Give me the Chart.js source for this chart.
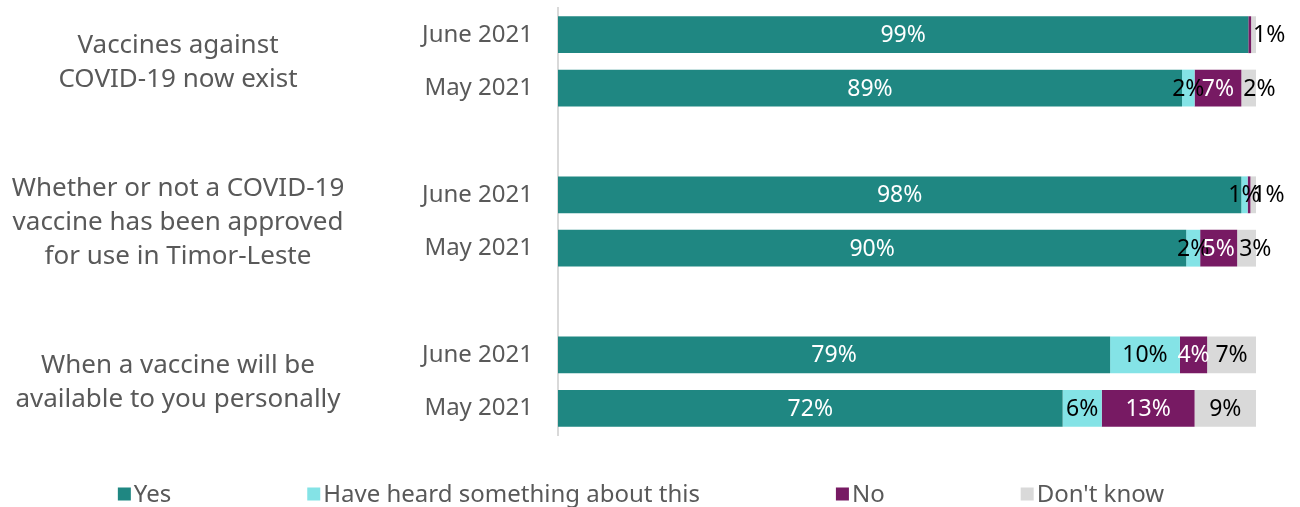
<!DOCTYPE html>
<html>
<head>
<meta charset="utf-8">
<script src="https://cdn.jsdelivr.net/npm/chart.js@4/dist/chart.umd.min.js"></script>
<style>
    html, body { margin: 0; padding: 0; background: #fff; }
    #wrap { width: 1300px; height: 507px; position: relative; }
</style>
</head>
<body>
<div id="wrap"><canvas id="vaccineChart"></canvas></div>
<script>
// rows, with empty rows as gaps between the three questions
const categories = ['June 2021', 'May 2021', '', 'June 2021', 'May 2021', '', 'June 2021', 'May 2021'];
const groupLabels = [
    ['Vaccines against', 'COVID-19 now exist'],
    ['Whether or not a COVID-19', 'vaccine has been approved', 'for use in Timor-Leste'],
    ['When a vaccine will be', 'available to you personally'],
];
const groupRows = [[0, 1], [3, 4], [6, 7]];

const seriesNames = ['Yes', 'Have heard something about this', 'No', "Don't know"];
const yesValues = [98.9, 89.4, null, 97.9, 90.0, null, 79.1, 72.3];
const heardValues = [0, 1.8, null, 0.9, 2.0, null, 10.0, 5.6];
const noValues = [0.4, 6.7, null, 0.4, 5.3, null, 3.9, 13.3];
const dontKnowValues = [0.7, 2.1, null, 0.8, 2.7, null, 7.0, 8.8];

const colors = ['#1f8782', '#84e3e6', '#771a63', '#d9d9d9'];
const labelColors = ['#ffffff', '#000000', '#ffffff', '#000000'];
const fontFamily = '"Noto Sans", "Open Sans", sans-serif';
const textGrey = '#595959';

// value labels in the middle of each segment
const segmentLabels = {
    id: 'segmentLabels',
    afterDatasetsDraw(chart) {
        const ctx = chart.ctx;
        ctx.save();
        ctx.font = '23px ' + fontFamily;
        ctx.textBaseline = 'middle';
        ctx.textAlign = 'center';
        chart.data.datasets.forEach((ds, di) => {
            const meta = chart.getDatasetMeta(di);
            meta.data.forEach((bar, i) => {
                const v = ds.data[i];
                if (v == null || Math.round(v) === 0) {
                    return;
                }
                const text = Math.round(v) + '%';
                const tw = ctx.measureText(text).width;
                let cx = (bar.x + bar.base) / 2;
                // small last segment: keep the label from running back over the bar
                if (di === chart.data.datasets.length - 1) {
                    cx = Math.max(cx, bar.base + tw / 2 + 2);
                }
                ctx.fillStyle = labelColors[di];
                ctx.fillText(text, cx, bar.y + 1);
            });
        });
        ctx.restore();
    },
};

// question text to the left of the row labels
const groupTitles = {
    id: 'groupTitles',
    afterDraw(chart) {
        const ctx = chart.ctx;
        const y = chart.scales.y;
        const lineHeight = 34;
        ctx.save();
        ctx.font = '26px ' + fontFamily;
        ctx.fillStyle = textGrey;
        ctx.textAlign = 'center';
        ctx.textBaseline = 'middle';
        groupLabels.forEach((lines, g) => {
            const mid = (y.getPixelForValue(groupRows[g][0]) + y.getPixelForValue(groupRows[g][1])) / 2;
            const top = mid - ((lines.length - 1) * lineHeight) / 2;
            lines.forEach((line, k) => {
                ctx.fillText(line, 178, top + k * lineHeight + 1);
            });
        });
        ctx.restore();
    },
};

// legend spread across the bottom like the original
const bottomLegend = {
    id: 'bottomLegend',
    afterDraw(chart) {
        const ctx = chart.ctx;
        const box = 13;
        const boxGap = 3;
        const itemGap = 136;
        const yMid = 494;
        ctx.save();
        ctx.font = '24px ' + fontFamily;
        ctx.textBaseline = 'middle';
        ctx.textAlign = 'left';
        const widths = seriesNames.map((n) => box + boxGap + ctx.measureText(n).width);
        const total = widths.reduce((a, b) => a + b, 0) + itemGap * (widths.length - 1);
        let x = 641 - total / 2;
        seriesNames.forEach((name, i) => {
            ctx.fillStyle = colors[i];
            ctx.fillRect(x, yMid - box / 2, box, box);
            ctx.fillStyle = textGrey;
            ctx.fillText(name, x + box + boxGap, yMid + 1);
            x += widths[i] + itemGap;
        });
        ctx.restore();
    },
};

const allValues = [yesValues, heardValues, noValues, dontKnowValues];

new Chart(document.getElementById('vaccineChart'), {
    type: 'bar',
    data: {
        labels: categories,
        datasets: allValues.map((vals, i) => ({
            label: seriesNames[i],
            data: vals,
            backgroundColor: colors[i],
            borderWidth: 0,
            barPercentage: 0.69,
            categoryPercentage: 1,
        })),
    },
    options: {
        indexAxis: 'y',
        responsive: true,
        maintainAspectRatio: false,
        animation: false,
        layout: {
            padding: { top: 8, bottom: 72, right: 44, left: 0 },
        },
        scales: {
            x: {
                stacked: true,
                min: 0,
                max: 100,
                display: false,
            },
            y: {
                stacked: true,
                grid: { display: false, drawTicks: false },
                border: { color: '#d9d9d9', width: 2 },
                ticks: {
                    color: textGrey,
                    font: { family: fontFamily, size: 24 },
                    padding: 25,
                },
                afterFit: (scale) => {
                    scale.width = 558;
                    scale.paddingTop = 0;
                    scale.paddingBottom = 0;
                },
            },
        },
        plugins: {
            legend: { display: false },
            tooltip: { enabled: false },
        },
    },
    plugins: [segmentLabels, groupTitles, bottomLegend],
});
</script>
</body>
</html>
